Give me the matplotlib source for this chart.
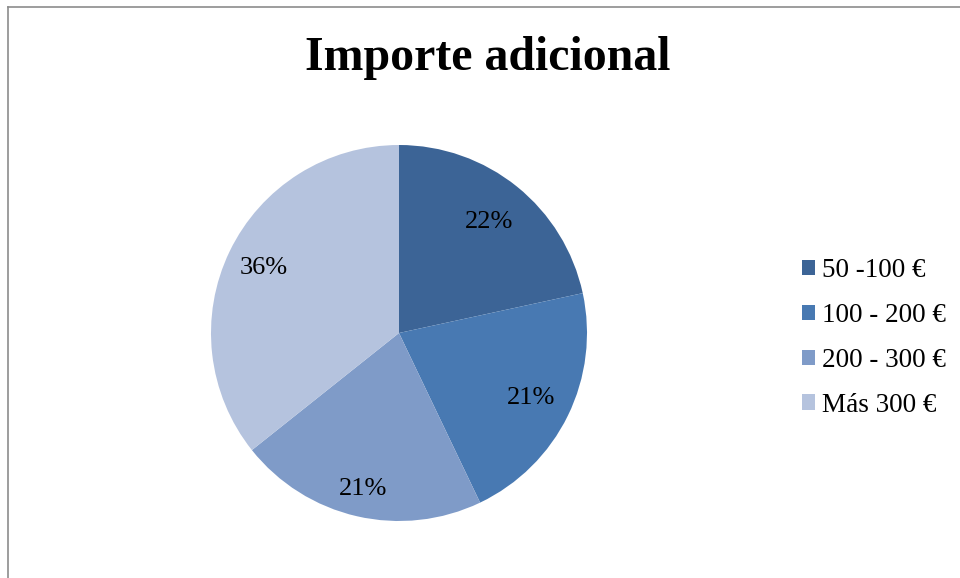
import numpy as np
import matplotlib
matplotlib.use("Agg")
from matplotlib import pyplot as plt
from matplotlib.lines import Line2D

plt.rcParams['font.family'] = ['Liberation Serif', 'DejaVu Serif']

categories = ['50 -100 €', '100 - 200 €', '200 - 300 €', 'Más 300 €']
values = [21.6, 21.3, 21.4, 35.7]
pct_labels = ['22%', '21%', '21%', '36%']
colors = ['#3C6496', '#4879B2', '#7F9BC8', '#B5C3DE']
label_dist = [0.76, 0.78, 0.85, 0.80]

fig = plt.figure(figsize=(9.6, 5.78), dpi=100)

# frame around the chart area (right and bottom edges are cut off)
fig.add_artist(Line2D([7.5 / 960, 1], [1 - 6.5 / 578] * 2, color='#8c8c8c', lw=1.2))
fig.add_artist(Line2D([7.5 / 960] * 2, [0, 1 - 6.5 / 578], color='#8c8c8c', lw=1.2))

cx, cy, r = 399, 333, 188
ax = fig.add_axes([(cx - r) / 960, (578 - cy - r) / 578, 2 * r / 960, 2 * r / 578])

wedges, _ = ax.pie(values, colors=colors, startangle=90, counterclock=False,
                   wedgeprops={'linewidth': 0})
# percentage labels, placed at each wedge's mid angle
for w, lab, d in zip(wedges, pct_labels, label_dist):
    ang = np.deg2rad((w.theta1 + w.theta2) / 2)
    ax.text(d * np.cos(ang), d * np.sin(ang), lab, ha='center', va='center',
            fontsize=19, color='black')
ax.set_xlim(-1, 1)
ax.set_ylim(-1, 1)
ax.set_aspect('equal')

fig.text(488 / 960, 1 - 58 / 578, 'Importe adicional', ha='center', va='center',
         fontsize=34.5, fontweight='bold')

fig.legend(wedges, categories, loc='center left', bbox_to_anchor=(788 / 960, 1 - 338 / 578),
           frameon=False, fontsize=19.5, handlelength=0.5, handleheight=0.5,
           handletextpad=0.25, labelspacing=0.73, borderpad=0)

fig.savefig('out.png', dpi=100)
